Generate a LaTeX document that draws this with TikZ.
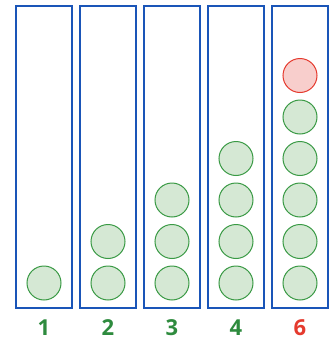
\documentclass[tikz,border=0pt]{standalone}
\usepackage{fontspec}
\setmainfont{Open Sans}
\definecolor{boxblue}{HTML}{1A55B8}
\definecolor{gfill}{HTML}{D5E8D4}
\definecolor{gstroke}{HTML}{3A9A45}
\definecolor{rfill}{HTML}{F8CECC}
\definecolor{rstroke}{HTML}{E53A2E}
\definecolor{glabel}{HTML}{2E8B3E}
\begin{document}
\begin{tikzpicture}[x=1pt,y=-1pt,
  col/.style={draw=boxblue,line width=2.5pt,fill=white},
  gball/.style={circle,draw=gstroke,fill=gfill,line width=1pt,minimum size=34pt,inner sep=0pt},
  rball/.style={circle,draw=rstroke,fill=rfill,line width=1pt,minimum size=34pt,inner sep=0pt},
  lab/.style={font=\fontsize{22}{24}\selectfont\bfseries, inner sep=0pt},
]
\useasboundingbox (0,0) rectangle (329,341);
\foreach \i in {0,...,4}{
  \draw[col] (16+64*\i,6) rectangle (72+64*\i,308);
}
% column 1
\node[gball] (a1) at (44,283) {};
% column 2
\node[gball] (b1) at (108,283) {};
\node[gball] (b2) at (108,241.5) {};
% column 3
\node[gball] (c1) at (172,283) {};
\node[gball] (c2) at (172,241.5) {};
\node[gball] (c3) at (172,200) {};
% column 4
\node[gball] (d1) at (236,283) {};
\node[gball] (d2) at (236,241.5) {};
\node[gball] (d3) at (236,200) {};
\node[gball] (d4) at (236,158.5) {};
% column 5
\node[gball] (e1) at (300,283) {};
\node[gball] (e2) at (300,241.5) {};
\node[gball] (e3) at (300,200) {};
\node[gball] (e4) at (300,158.5) {};
\node[gball] (e5) at (300,117) {};
\node[rball] (e6) at (300,75.5) {};
% labels
\node[lab,text=glabel] (l1) at (44,328) {1};
\node[lab,text=glabel] (l2) at (108,328) {2};
\node[lab,text=glabel] (l3) at (172,328) {3};
\node[lab,text=glabel] (l4) at (236,328) {4};
\node[lab,text=rstroke] (l6) at (300,328) {6};
\end{tikzpicture}
\end{document}
